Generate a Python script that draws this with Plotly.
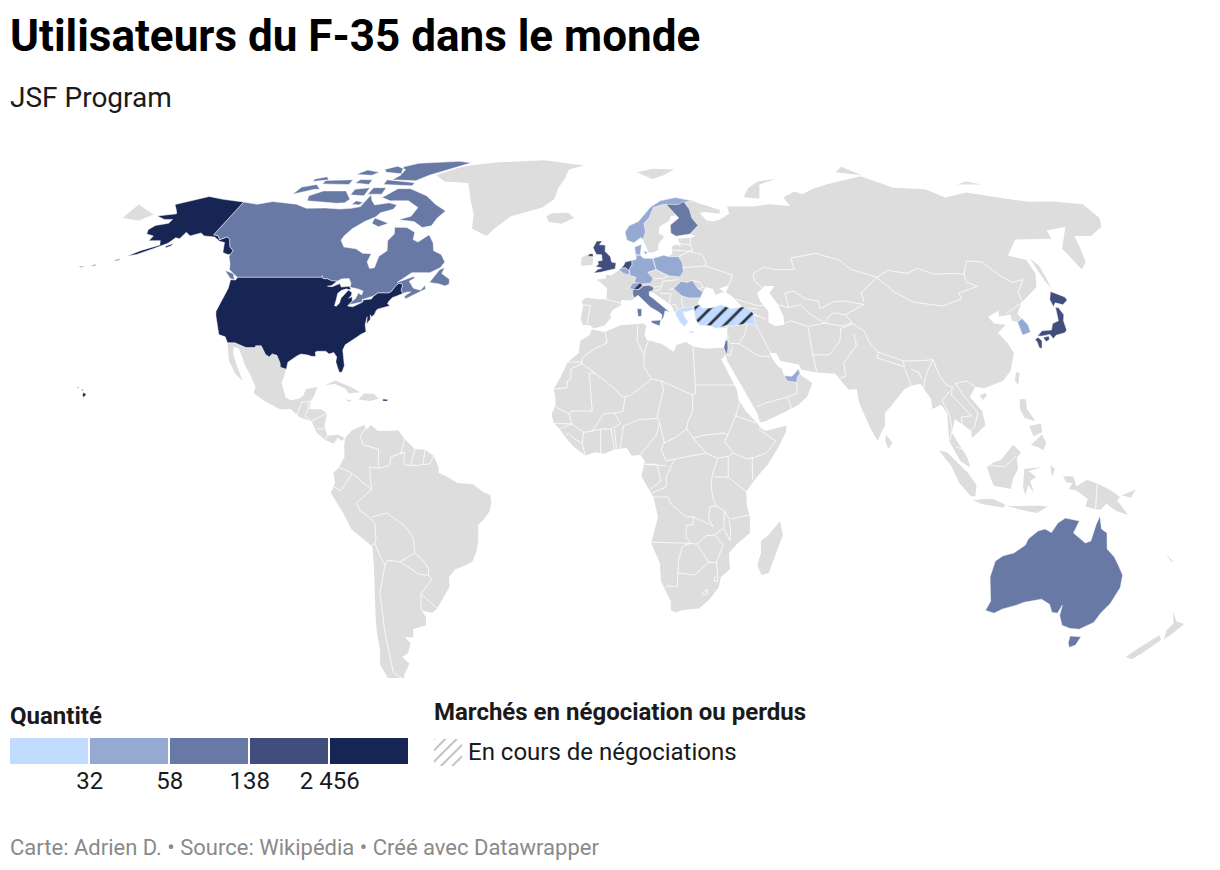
import numpy as np
import plotly.graph_objects as go

# --- grey land ---
eurasia = [(-5.4,36.1),(-6.5,36.9),(-8.9,37),(-9.5,38.7),(-8.8,41.5),(-9.3,43),(-8,43.8),(-4,43.4),(-1.5,43.4),(-1.2,45),(-1.2,46),(-3,47.4),(-4.7,48.4),(-1.5,48.7),(-1.8,49.7),(0.2,49.5),(1.5,50.2),(3,51.1),(4.2,52),(4.8,53),(7,53.4),(8.5,53.7),(8.3,55.5),(8.2,57),(10.6,57.7),(10.3,56),(10,54.8),(11,54),(14,54),(18,54.8),(19.6,54.4),(21,55.2),(21,57),(22.5,57.7),(24.3,57.2),(23.5,59.2),(28,59.5),(30,60),(28,60.5),(23,59.9),(21.3,60.8),(21.5,63),(25,65),(24,65.8),(22,65.5),(21.3,64.2),(17.5,62.5),(17,60.7),(18.8,59.8),(16.5,57.8),(16.3,56.2),(14.3,55.5),(12.9,55.5),(11.3,58.8),(10.5,59.5),(8,58.1),(5.6,58.8),(5,61),(6.5,62.8),(10,64),(12.5,66),(15,68.2),(19,70),(25,71),(31,70.2),(33,69.4),(41,67.3),(40.3,66.2),(35,66.7),(33,66.5),(35,64.3),(37.5,64),(40,64.6),(44,66.2),(44,68.3),(54,68.3),(60,69),(68,68.5),(67,71),(72.5,72.8),(75,72),(80,73.5),(87,75),(104,77.7),(113,74),(125,73.5),(130,71),(140,72.5),(160,69.7),(170,69.8),(180,69),(180,65),(177,62.5),(170,60),(164,60),(162,56.5),(160,53),(156.7,51),(155.7,56.5),(161,60.5),(164,62.5),(156,61.5),(155,59.2),(142,59),(135.3,54.7),(140.5,53.5),(140.4,50),(138,46.5),(132,43.2),(130.5,42.5),(127.5,39.7),(129.4,37),(129.3,35.2),(126.5,34.4),(126.5,37.7),(125,38),(125.2,39.6),(121.5,39),(122,40.5),(118,39),(119,37.3),(122.5,37),(119.2,35),(121,32.5),(122,30),(119.5,25.5),(116.5,23),(110.5,21.2),(108,21.6),(105.8,19),(108.8,15.5),(109.3,12),(105,8.7),(105,10.5),(102,12.5),(100.5,13.5),(99.3,10),(103.3,4),(104.2,1.4),(101.3,3),(98.3,8),(98.5,15),(97,17),(94.3,16),(94.3,18.5),(91.8,22.3),(89,21.8),(86.9,21),(82.2,16.7),(80.2,15),(80,12),(77.5,8.1),(75.5,11.5),(73,17.5),(72.7,21),(70.4,20.8),(69,22.3),(67,24.8),(61.5,25.1),(57,25.8),(56.4,27.1),(51,28),(50,30),(48,30),(48.7,28.5),(50,26.7),(51.2,26),(51.5,25),(51.6,24.3),(54,24.2),(56.3,26),(56.6,24.5),(59.8,22.5),(57.8,19),(55,17),(52,15.7),(45,12.9),(43.5,12.7),(42.8,15),(39.2,21),(35,28),(34.7,29.5),(33,28.2),(32.6,30),(32.3,31.2),(34.3,31.3),(35.8,34.5),(35.9,36.3),(32.5,36.1),(30.6,36.8),(27.5,36.8),(26.3,39.4),(29,41),(31.5,41.2),(35,42),(38,41),(41.5,41.5),(39,44),(37,45.2),(38.5,47.1),(35,46.1),(36.5,45.3),(33.5,44.5),(33,46),(30.7,46.5),(28.7,44),(27.5,42.5),(28,41.5),(26.2,40.9),(23.5,40.2),(22.7,40.3),(23,39),(24,37.8),(22.8,36.5),(21.5,37.5),(21,38.5),(19.5,41),(19,42),(15.5,44),(13.7,45),(12.3,45.3),(12.3,44.3),(13.5,43.6),(16,41.8),(18.4,40.2),(17,40.5),(16.5,39),(15.7,38),(16,39.5),(15,40.2),(12.5,41.4),(10.5,43),(8.7,44.4),(6.5,43.1),(3.2,43.2),(3.2,41.9),(0.5,40.7),(-0.3,39.5),(0,38.7),(-2,36.8)]
africa = [(-6,35.8),(-2,35.2),(3,36.9),(10,37.3),(11,36.9),(10.3,34.5),(11,33.2),(15.3,32.3),(19,30.3),(20,32),(23,32.7),(25,31.6),(29,31),(32.3,31.2),(32.5,29.9),(34,26.7),(35.5,24),(37.2,21),(37.5,18.5),(39.5,15.5),(43,12.2),(43.3,11.5),(45,10.5),(51.2,11.9),(51,10.4),(49,7),(45.5,2.2),(41.5,-1.9),(39.2,-4.7),(39.5,-8),(40.5,-11),(40.7,-15),(37,-17.8),(34.8,-20),(35.5,-24),(32.9,-26),(32.5,-28.5),(30,-31.5),(27,-33.8),(22,-34.2),(20,-34.8),(18.4,-34.2),(18.2,-32),(15,-27),(14.5,-22.5),(11.8,-17.5),(13.7,-11),(12.3,-6),(8.8,-0.8),(9.8,3),(8.5,4.5),(6,4.3),(4.5,6.3),(1,5.9),(-2,4.8),(-4.5,5.2),(-7.5,4.4),(-11,6.7),(-13.3,9),(-15,11),(-16.7,12.5),(-17.4,14.7),(-16.3,17),(-16.5,19.5),(-17,21),(-15,24),(-13,27.7),(-9.8,30),(-9.4,33),(-6.5,34.5)]
south_america = [(-77.4,8.7),(-75.5,10.7),(-72,12),(-71.3,11),(-71.5,10.7),(-70,12),(-68,10.6),(-64,10.5),(-62,10.7),(-60,8.5),(-57,6),(-54,5.8),(-51.5,4.3),(-50,1.5),(-50,0),(-48,-0.7),(-44.5,-2.5),(-40,-2.8),(-37,-4.8),(-35,-5.5),(-34.8,-7.5),(-35.3,-9.5),(-37,-11.5),(-38.8,-13),(-39,-17),(-39.7,-19.5),(-41,-22),(-43,-23),(-46.5,-24.1),(-48.5,-26),(-48.7,-28.5),(-52,-32.5),(-53.5,-34),(-55,-34.9),(-57.5,-34.5),(-58.3,-34),(-57.2,-36),(-57.6,-38),(-62,-39),(-62.3,-41),(-65,-41),(-63.7,-42.5),(-65.3,-45),(-67.5,-46),(-65.8,-47.7),(-69,-51),(-68.3,-52.4),(-65.2,-54.8),(-69,-55.5),(-74,-53),(-75.5,-48),(-74,-44),(-73.5,-40),(-73,-37),(-71.5,-30),(-70.5,-23),(-70.3,-18.4),(-76,-14),(-78,-10),(-81.3,-5),(-80,-2.5),(-80.5,0),(-78.8,1.5),(-77.3,4),(-77.5,7)]
mexico_central = [(-117.1,32.53),(-114.8,32.5),(-111.05,31.33),(-108.2,31.33),(-108.2,31.78),(-106.5,31.75),(-104.5,29.6),(-103.2,29),(-102.5,29.75),(-101,29.4),(-99.5,27.5),(-99.1,26.4),(-97.2,25.95),(-97.8,22.5),(-96,19),(-94.5,18.2),(-92,18.6),(-90.7,19.5),(-90.3,21),(-87,21.5),(-87.5,19.5),(-88.3,18),(-88.5,16),(-85,15.9),(-83.2,15),(-83.6,11.5),(-82.5,9.3),(-79.5,9.6),(-77.4,8.7),(-78.4,8),(-79.5,8.9),(-80.5,7.3),(-83,8.2),(-85.7,10),(-87.5,13),(-91,13.9),(-94,16),(-97,15.9),(-102,18),(-105.6,20),(-105.3,21.5),(-108,25),(-109.5,26.5),(-113,31),(-114.7,31.5),(-114.5,30),(-112,26.5),(-109.5,23),(-112,24.7),(-115,28)]
greenland = [(-73,78),(-68,76),(-58,75.5),(-54,70),(-51,66),(-50,62),(-44,60),(-42,62),(-37,65.5),(-26,68),(-22,70.5),(-21,74),(-19,77),(-18,80),(-12,81.5),(-30,83.5),(-50,82.7),(-62,81.5),(-66,80.5)]
iceland = [(-24,65.5),(-22,66.4),(-16,66.5),(-13.6,65),(-18,63.4),(-22.7,63.9)]
ireland = [(-10,52),(-6.3,52.2),(-6,53.5),(-6.2,54.1),(-8,54.5),(-7.3,55.2),(-10,54.2)]
madagascar = [(49.3,-12),(50.4,-15.5),(49.5,-18),(47.1,-25),(45,-25.5),(43.5,-23),(44.3,-20),(44,-17),(46,-15.7),(48,-13.5)]
chukotka = [(-180,68.9),(-175,67.5),(-170,66),(-173,64.3),(-180,65)]
novaya_zemlya = [(52,71),(55,70.8),(57.5,70.7),(60,75),(68,76.8),(60,76),(55,74),(52,71.5)]
svalbard = [(11,79),(17,76.8),(22,78),(27,80),(18,80.3)]
severnaya = [(95,79),(105,78),(100,81)]
new_siberia = [(140,75),(150,75),(145,76)]
sakhalin = [(142,54),(143.3,52),(143,49),(142.5,46),(142,48),(142,51)]
cuba = [(-84.9,21.9),(-82,23.1),(-77,21.5),(-74.2,20.2),(-77.5,19.9),(-78.5,21),(-82,22.3)]
hispaniola = [(-74.4,18.4),(-73,19.9),(-70,19.8),(-68.4,18.6),(-71,18),(-72.5,18.2)]
jamaica = [(-78.3,18.4),(-76.3,18.2),(-77,17.8)]
sri_lanka = [(80,9.7),(81.8,7.5),(80.5,6),(79.8,8)]
hainan = [(108.7,19.3),(110.5,20),(111,19.6),(109.5,18.2)]
taiwan = [(121,25.2),(122,25),(120.8,22),(120.1,23)]
luzon = [(120.4,18.5),(122.2,18.4),(122,16),(124,13),(121,13.8),(120,16)]
visayas = [(122,11.8),(125.5,12.4),(125.6,10.2),(123,9.2)]
mindanao = [(122,7),(125.5,9.7),(126.5,7.5),(125.5,5.7),(124,6.5)]
borneo = [(109,1.5),(111,2.7),(113,3.2),(116.8,7),(119,5.2),(117.7,3.7),(118,1),(116.5,-1.5),(116,-4),(111,-3.2),(110,-1.2)]
sumatra = [(95.3,5.6),(97.5,5.2),(103.5,0),(106,-3),(105.8,-5.8),(104.5,-5.8),(101,-2.5),(98.7,1.7)]
java = [(105.2,-6.8),(108.5,-6.5),(111,-6.5),(114.5,-7.8),(114.3,-8.7),(108,-7.8)]
sunda = [(115,-8.3),(119,-8.3),(125,-8.2),(127,-8.4),(124,-10),(120,-9.3)]
sulawesi = [(119.8,1),(125,1.5),(121,0.5),(123.3,-1),(121.5,-2),(122.8,-5),(121,-3),(120.3,-5.5),(119.5,-3.5),(119.8,0)]
new_guinea = [(131,-0.8),(134,-0.8),(135,-3.3),(138,-1.7),(141,-2.6),(145,-4.3),(147.8,-6),(147,-6.8),(150.7,-10.5),(147,-9.5),(144,-7.7),(142.5,-9.2),(141,-9.1),(138,-8.4),(138.5,-6.5),(135,-4.4),(132.8,-4),(133.8,-2.5),(132,-2.3)]
halmahera = [(127.5,2),(128.7,1),(128,-0.8),(127.5,0.5)]
new_britain = [(148.3,-5.6),(152.2,-4.2),(151,-6.2)]
new_caledonia = [(164,-20.2),(167,-22.3),(166,-22)]
nz_north = [(172.7,-34.5),(175.5,-37),(178.3,-37.7),(177,-39.5),(175,-41.6),(174,-39.3),(175,-37.5)]
nz_south = [(172.7,-40.5),(174.2,-41.7),(171,-45),(169,-46.6),(166.5,-46),(168.5,-44)]
caspian_sea = [(47,45),(50,46.8),(53,46.8),(51,45),(53,42),(54,39),(53.8,37),(51,36.7),(49,37.5),(49.5,40.3),(47.5,43)]

grey_land = [eurasia, africa, south_america, mexico_central, greenland, iceland, ireland, madagascar, chukotka, novaya_zemlya, svalbard, severnaya, new_siberia, sakhalin, cuba, hispaniola, jamaica, sri_lanka, hainan, taiwan, luzon, visayas, mindanao, borneo, sumatra, java, sunda, sulawesi, new_guinea, halmahera, new_britain, new_caledonia, nz_north, nz_south]

# --- white borders between grey countries ---
borders = [
    [(-1.7,35),(-1.2,32.5),(-5,31),(-8.7,28.7),(-8.7,27.3)],[(-13,27.7),(-8.7,27.7)],[(-8.7,27.3),(-4.8,25),(1.2,21),(3.3,19),(4.2,19.1),(5.8,19.4),(12,23.5)],
    [(-17,21),(-13,21.3),(-13,23),(-12,23.4),(-12,26),(-8.7,27.3)],[(-4.8,25),(-6.5,25),(-5.5,15.5),(-11.5,15.5),(-12.2,14.8),(-16.3,16.5)],
    [(8.3,36.9),(8,33),(9.5,30.2),(10,30),(9.9,26.5),(12,23.5)],[(11.5,33.1),(10,30)],[(25,31.6),(25,20)],[(25,22),(36.9,22)],[(12,23.5),(15,23),(24,19.5),(25,20)],
    [(24,19.5),(24,15.5),(22.5,13),(22,11)],[(15,23),(15.5,20.9),(13.5,14),(14.2,12.5)],[(3.6,11.7),(8,13.3),(13.5,13.7)],[(3.6,11.7),(2.7,6.3)],[(14.2,12.5),(13.2,9.5),(8.5,4.6)],
    [(4.2,19.1),(3.5,15.4),(1,15)],[(-5.5,10.5),(-3,11),(0,11),(2.8,12.4),(1,15),(-2,14.9),(-5.5,10.5)],[(-3,11),(-3,5)],[(0,11),(1,6)],[(1,11),(1.6,6.2)],
    [(-7.5,4.4),(-8.4,7.5),(-8,10.2),(-5.5,10.5)],[(-13.3,9.2),(-12.5,10),(-10.5,8.5),(-8.4,7.5)],[(-15,11),(-11.5,12.3),(-8,10.2)],[(-16.7,12.4),(-11.5,12.3),(-12.2,14.8)],
    [(22,11),(24,8.7),(27.5,5),(31,3.7),(34,4.2),(35.5,5)],[(24,8.7),(27,9.5),(33,10),(34,9.5),(33,7.8),(35.5,5)],[(36.5,14.3),(34,9.5)],[(38,18),(36.5,14.3),(42.5,12.5)],
    [(43,11),(48,8),(45,5),(42,4),(39.5,3.5),(35.5,5)],[(41,-1.7),(41,3.9)],[(34,4.2),(34,-1)],[(30,-1),(34,-1),(39.2,-4.7)],
    [(31,3.7),(29.5,0),(29,-2.5),(29.5,-6),(30.5,-8.2),(28.8,-8.5),(28.5,-11.5),(29.8,-13.3),(24,-11)],[(14.5,6),(16,3),(18.5,3.5),(27.5,5)],[(14.5,6),(15.5,7.5),(19,9),(22,11)],[(14.2,12.5),(15.5,7.5)],
    [(18.5,3.5),(16,-1),(16,-3.5),(12,-5)],[(9.8,2.2),(13.3,2.2),(14.5,-2),(11.5,-4)],[(9.8,2.2),(16,1.8)],
    [(12.3,-6),(16.5,-6),(17.7,-8),(22,-11),(24,-11),(24,-13),(22,-13),(22,-16),(23.4,-17.6),(11.8,-17.3)],[(23.4,-17.6),(25.3,-17.8),(28,-15.7),(30.4,-15.5),(33,-13.7),(33,-9.5),(30.5,-8.2)],
    [(23.4,-17.6),(21,-18.3),(20,-22),(20,-28.4),(17,-28.2),(16.5,-28.5)],[(20,-25),(25,-25.5),(29,-22.3)],[(25.3,-17.8),(29,-22.3),(31.3,-22.4),(33,-18),(30.4,-15.5)],[(32,-26),(31.3,-22.4)],
    [(35,-11.5),(40.5,-10.5)],[(33,-9.5),(34.5,-11.5),(35,-14.5),(35,-17),(33,-14)],[(27.5,-30),(29,-29),(29.3,-30),(28,-30.6),(27.5,-30)],[(31,-26),(32,-26),(32,-27.2),(31,-27),(31,-26)],
    [(-71.3,11.8),(-73,9),(-72,7),(-67.5,6),(-67.5,2),(-66.9,1.2)],[(-66.9,1.2),(-70,1.5),(-69.5,-4.2)],[(-69.5,-4.2),(-75,-0.1)],[(-75,-0.1),(-78.8,1.4)],[(-75,-0.1),(-78.5,-4.5),(-80.3,-3.4)],
    [(-69.5,-4.2),(-74,-7.5),(-73,-9.5),(-70.5,-11)],[(-70.5,-11),(-69,-12.5),(-69,-16.5),(-69.5,-17.5),(-70.4,-18.3)],[(-69.5,-11),(-65.3,-10),(-60,-13.5),(-58,-16.3),(-58,-20)],
    [(-58,-20),(-62.6,-22.2),(-57.5,-25.3),(-54.6,-25.6),(-54.3,-24),(-55.5,-22),(-58,-20)],[(-62.6,-22.2),(-66.2,-21.8),(-67.2,-23)],[(-69.5,-17.5),(-68.2,-21),(-67.2,-23)],[(-67.2,-23),(-70,-30),(-71,-40),(-72,-50),(-68.6,-52.3)],[(-68.6,-52.7),(-68.6,-55)],
    [(-58.3,-34),(-57.6,-30.2),(-53.4,-33.7)],[(-57.6,-30.2),(-53.7,-26.5),(-54.6,-25.6)],[(-60,8.5),(-61,5),(-60,5.2),(-64,4),(-64,2),(-66.9,1.2)],[(-57,6),(-58,2)],[(-54,5.8),(-54.5,2.3)],[(-60,5.2),(-60,2),(-56.5,1.9),(-52.5,2.3),(-51.5,4.3)],
    [(-92,14.5),(-91,17.8),(-89,17.8),(-88.3,18)],[(-89,17.8),(-88.9,15.9),(-89.5,14.2),(-87.8,13.4)],[(-83.2,15),(-86.7,13.3),(-87.5,13)],[(-83.7,11),(-85.7,11.1)],[(-82.7,9.5),(-83,8.2)],[(-77.4,8.7),(-77.9,7.2)],
    [(-1.8,43.4),(3.2,42.4)],[(-8.9,42),(-6.5,41.8),(-7,39.5),(-7.4,37.2)],[(12.2,50.3),(15,51),(19,49.4)],[(13.8,48.7),(17,48.7),(19,49.4)],[(17,48),(16.5,46.8),(13.7,46.5)],[(17,48),(22.2,48.4)],
    [(13.7,45.5),(15.5,45.7),(16.5,46.5)],[(18.8,45.9),(20.3,46.1)],[(22.7,44.3),(22.5,42.5),(22.9,41.3)],[(15.8,45),(19.3,44.8),(18.5,42.5)],[(19.4,42.2),(20.5,42),(21,40.8)],
    [(23,54.4),(27,55.8),(31,55),(32,53),(31.5,52),(24,51.5)],[(31.5,52),(35,51),(40,49.6),(38.5,47.1)],[(26.6,48.2),(29,47.8),(30,46.5),(28.2,46)],[(21,56.2),(27,55.8),(28.2,56.2)],[(22.5,57.7),(24.3,57.9),(27.5,57.5)],[(28,59.5),(27.5,57.5),(28.2,56.2)],
    [(49,46.4),(47,48),(47,50),(51,51.6),(55,51),(61,51),(61,54),(70,55.3),(77,53.5),(80,51),(87.5,49)],[(87.5,49),(92,50.8),(98,50),(102,51.3),(107,49.8),(113,50),(116.7,49.8)],[(87.5,49),(91,45.5),(96,42.7),(105,41.7),(112,43.5),(112,45),(119,46.7),(116,47.8),(116.7,49.8)],
    [(116.7,49.8),(120,53.3),(125,53),(128,49.7),(131,47.7),(135,48.4),(131,45),(131,43),(130.5,42.5)],[(130.5,42.5),(128,41.5),(124.3,39.9)],[(126.5,37.7),(128.4,38.6)],[(80.5,42.8),(80.5,45),(87.5,49)],
    [(80.2,42.1),(73.5,39.5),(70,40)],[(70.5,42.7),(74,43),(80.2,42.1)],[(53,42),(56,41.3),(56,45),(59,45.5),(62,43.5),(66,43),(66,41),(70.5,42.7)],[(53.8,37.3),(56,38),(61,36.6),(64.5,37),(66.5,37.4)],[(56,41.3),(60,42),(62,40),(66.5,37.4)],
    [(66.5,37.4),(68,39),(70,40)],[(73.5,39.5),(75,37.4),(71.5,36.7),(66.5,37.4)],[(74.9,37.2),(71,36),(70,33),(66,29.5),(61,29.5),(61.5,25.1)],[(61,36.6),(61,31.5),(61,29.5)],
    [(44.8,37.2),(46,35),(47.8,31),(48.5,30)],[(42.3,37.2),(41,34.5),(39,32.3)],[(48,29),(46.5,29.2),(44.7,29.2),(39,32.3)],[(39,32.3),(36.5,32.3),(35.7,33.2)],[(37,31.5),(36,29.3),(35,29.5)],[(36,34.6),(35.7,33.2)],
    [(42.8,16.5),(45,17.4),(52,19),(55,20)],[(52,19),(53,16)],[(55,20),(55.2,22.7)],[(39.9,43.4),(46.5,41.8),(48.6,41.8)],[(43.5,41.1),(46.5,41)],[(46,39),(44.8,39.7)],[(44.8,39.7),(48.5,38.4)],
    [(74.7,34.7),(74.8,32),(70,27.5),(70,24.2),(68.2,23.7)],[(75,37.4),(78,35.5),(79,32.5),(81,30.2),(88,28),(92,28),(97,28.3)],[(81,30.2),(80.2,28.8),(88,26.5),(88,27.9)],[(88,26),(89,22)],[(92.5,23.5),(92,25),(89.8,26)],[(97,28.3),(95,26),(93.5,23.5),(92.3,21)],
    [(97,28.3),(98,24.2),(99.5,22),(101.5,21.3)],[(102.2,22.4),(105.8,23),(108,21.6)],[(102.2,22.4),(104,19.5),(107.5,15),(106,11.5),(104.5,10.5)],[(101,21.3),(100.5,19.5),(105.5,14.3)],[(105.5,14.3),(102.5,14),(102.5,12)],[(100,20.4),(97.5,18),(99,15),(99.5,11),(98.5,8)],[(100.2,6.5),(102,6)],
    [(141,-2.6),(141,-9.1)],[(109.6,2),(114,1.5),(117.5,4.2)],
]

# --- countries with F-35, grouped by legend bin ---
usa = [(-124.7,48.4),(-123,48.3),(-122.8,49),(-95.15,49),(-95.15,49.4),(-94.6,48.7),(-93,48.6),(-91.4,48.1),(-89.6,48),(-90.8,46.9),(-92.1,46.7),(-90.5,46.6),(-88.4,47.4),(-87.5,46.5),(-85,46.7),(-84.6,46.45),(-84.1,46),(-84.7,45.8),(-85.5,46.05),(-87,45.7),(-87.9,44.9),(-87.7,43.5),(-87.6,41.8),(-87,41.65),(-86.3,42.4),(-86.3,43.7),(-85.5,45),(-84.8,45.75),(-83.4,45.1),(-83.3,44.3),(-83.9,43.7),(-82.9,44.05),(-82.45,43),(-83.1,42.2),(-83.4,41.7),(-81.7,41.5),(-79,42.7),(-79.05,43.25),(-76.5,43.5),(-76.2,44.1),(-75,45),(-71.5,45),(-70.8,45.4),(-70,46.7),(-69.2,47.45),(-68.3,47.35),(-67.8,47.05),(-67.8,45.7),(-67,44.85),(-68.5,44.3),(-70,43.8),(-70.7,43),(-71,42.3),(-70,41.8),(-71.4,41.45),(-73.7,40.9),(-74,40.5),(-74.2,39.6),(-75,38.95),(-75.5,39.5),(-75.1,38.4),(-75.9,37.2),(-76.3,39),(-76.3,37),(-75.5,35.25),(-77,34.6),(-78,33.9),(-79.3,33.1),(-81,32),(-81.4,30.7),(-80.5,28.4),(-80,26.8),(-80.4,25.2),(-81.2,25.2),(-81.8,26.1),(-82.8,27.8),(-82.8,29),(-84,30.1),(-85.3,29.7),(-86.5,30.4),(-89,30.4),(-89.6,30.2),(-89.2,29.1),(-90.5,29.15),(-91.8,29.5),(-93.8,29.7),(-94.8,29.3),(-97.2,27.7),(-97.2,25.95),(-99.1,26.4),(-99.5,27.5),(-101,29.4),(-102.5,29.75),(-103.2,29),(-104.5,29.6),(-106.5,31.75),(-108.2,31.78),(-108.2,31.33),(-111.05,31.33),(-114.8,32.5),(-117.1,32.53),(-118.4,34),(-120.6,34.55),(-121.9,36.6),(-122.5,37.7),(-123.8,39.3),(-124.35,40.4),(-124.2,42),(-124.1,44),(-123.95,46.2)]
alaska = [(-141,69.65),(-145,70),(-150,70.45),(-156.6,71.3),(-161,70.3),(-166.2,68.9),(-163,67.1),(-161.7,66.2),(-168,65.6),(-164,64.6),(-161,64.6),(-161,63.5),(-165,62.9),(-166,61.7),(-165,60.5),(-162,60),(-162,58.7),(-158,58.7),(-156.8,57.5),(-161.8,56),(-164.8,54.6),(-162,55),(-158,56.5),(-154.5,58),(-153.5,59.5),(-151.8,59.2),(-151.5,61),(-149,60),(-146,60.8),(-144,60),(-140,59.7),(-137,58.5),(-135,58.2),(-133,55.5),(-131,55),(-130,55),(-130,56),(-132,57),(-134,59),(-135.5,59.7),(-137.5,58.9),(-139,60),(-141,60.3)]
kodiak = [(-154.5,57.2),(-152.4,58),(-152.8,57.2),(-154,56.8)]
aleutian_1 = [(-168.2,53.3),(-166.2,53.9),(-166.6,53.4)]
aleutian_2 = [(-174.5,52.1),(-172.5,52.4),(-173,52)]
aleutian_3 = [(-178.3,51.8),(-176,51.9),(-177,51.6)]
hawaii_big = [(-155.9,20.2),(-154.9,19.6),(-155.6,18.9),(-156,19.6)]
hawaii_maui = [(-156.7,20.9),(-156,20.8),(-156.4,20.5)]
hawaii_oahu = [(-158.2,21.5),(-157.7,21.6),(-157.8,21.2)]
puerto_rico = [(-67.2,18.5),(-65.7,18.4),(-65.8,18),(-67.2,18)]

canada = [(-141,69.65),(-135,69),(-130,69.8),(-125,69.5),(-120,69),(-115,67.8),(-110,67.8),(-108,67.9),(-102,67.6),(-98,67.8),(-95,68.3),(-94,71.8),(-92,70),(-90,68.8),(-85,69.4),(-81.5,68.8),(-82,67.5),(-86,66.5),(-87,65.3),(-90,64),(-93,62),(-94.5,60),(-94.7,58.8),(-92.5,57),(-88,56.5),(-85,55.3),(-82,55.2),(-82.2,53),(-80.5,51.3),(-79,51.5),(-79,54.5),(-77,56),(-78.3,58.7),(-77,60.5),(-78,62.4),(-73.5,62.3),(-70,61),(-69.5,59),(-67.5,58.3),(-65.5,59.5),(-64.5,60.3),(-62,58),(-61,56),(-58,55),(-56,53),(-57,51.5),(-60,50.2),(-66,50.2),(-69.8,47.7),(-65,49.2),(-64.5,48.8),(-66,48),(-64.8,47),(-64,46.2),(-61.5,45.7),(-60.5,47),(-60,46),(-63.5,44.6),(-65.7,43.5),(-66.2,44.2),(-64.5,45.3),(-66,45.2),(-67,44.85),(-67.8,45.7),(-67.8,47.05),(-68.3,47.35),(-69.2,47.45),(-70,46.7),(-70.8,45.4),(-71.5,45),(-75,45),(-76.3,44.2),(-79.5,43.3),(-79,42.8),(-83,42),(-82.45,43),(-81.7,43.5),(-81.3,45),(-80,44.5),(-80,45.5),(-81.8,46),(-84.6,46.45),(-84.8,47.5),(-86,48.7),(-88.4,48.6),(-89.6,48),(-91.4,48.1),(-93,48.6),(-94.6,48.7),(-95.15,49.4),(-95.15,49),(-122.8,49),(-124,49.5),(-127,51),(-128,52.5),(-130,54.5),(-130,56),(-132,57),(-134,59),(-135.5,59.7),(-137.5,58.9),(-139,60),(-141,60.3)]
vancouver = [(-128.3,50.8),(-125,50),(-123.4,48.4),(-125,48.7)]
newfoundland = [(-59.3,47.7),(-57,51),(-55.5,51.5),(-56,50),(-53,48.5),(-52.7,47.2),(-54,46.8),(-56,47.3)]
baffin = [(-80,73.7),(-72,71.5),(-67,69),(-62,67),(-64,65),(-65,62.8),(-68,62.3),(-72,64),(-78,64.5),(-74,65.5),(-73,68),(-78,70),(-85,70),(-89,71),(-85,73.7)]
victoria = [(-117,70),(-105,69.3),(-102,69.4),(-101,70.5),(-105,73),(-114,73),(-118,71.5)]
banks = [(-125,72),(-118,73.5),(-116,73.5),(-119,75),(-124,74.2)]
ellesmere = [(-90,76.5),(-80,76.2),(-76,78),(-70,80),(-62,82.5),(-68,83.1),(-85,82.3),(-90,81),(-88,78)]
devon = [(-92,75),(-80,74.6),(-80,75.6),(-92,76.5)]
prince_wales = [(-102,71.8),(-96.5,71.5),(-96.5,74),(-102,73.5)]
somerset = [(-95.5,72),(-90,72),(-90,74),(-95,74)]
melville = [(-117,75.2),(-106,75),(-106,76.5),(-117,76.3)]
bathurst = [(-104,75.5),(-98,75),(-98,76.5),(-103,76.6)]
prince_patrick = [(-122,76),(-116,76.5),(-118,77.5),(-122,76.8)]
king_william = [(-99,69),(-96,68.8),(-95,69.5),(-98,70)]
ringnes = [(-107,78.3),(-100,78),(-98,79),(-104,79.8)]
axel_heiberg = [(-97,80),(-93,81.2),(-88,80),(-88,78.5),(-95,79)]
southampton = [(-87,65),(-81,63.5),(-84,62.5),(-87,63.5)]
australia = [(114,-22),(116,-20.7),(119,-20),(122,-18),(122.5,-16.5),(125,-14.5),(127,-14),(129,-14.9),(130.5,-12.5),(132.5,-11.3),(136.7,-12),(136,-13.5),(135.5,-15),(139.5,-17.5),(141,-17),(141.7,-13),(142.5,-10.8),(143.5,-14),(145.3,-15),(146.3,-19),(149,-21),(150.8,-23),(153,-25.5),(153.6,-28.6),(152.5,-32.5),(150.8,-35),(150,-37.3),(146.5,-39),(143.5,-38.8),(140.5,-38),(138.5,-35.6),(138,-33),(137.5,-35),(135.7,-34.8),(134,-32.8),(131,-31.5),(126,-32.3),(124,-33),(120,-34),(118,-35),(115,-34.3),(115.7,-32),(113.5,-26)]
tasmania = [(144.7,-40.7),(148.3,-40.9),(148,-43),(146.5,-43.6),(145.3,-42.5)]
finland = [(21.3,60.8),(23,59.9),(28,60.5),(31.5,62.9),(29.8,65),(29.5,67.5),(28.5,68.9),(28,69.8),(25.5,68.9),(21,69),(24,66),(25,65),(21.5,63)]
italy = [(7,45.9),(9,45.9),(10.4,46.8),(12.3,47),(13.7,46.5),(13.7,45.7),(12.3,45.3),(12.3,44.3),(13.5,43.6),(16,41.8),(18.4,40.2),(17,40.5),(16.5,39),(15.7,38),(16,39.5),(15,40.2),(12.5,41.4),(10.5,43),(8.7,44.4),(7.5,43.8),(7,44.5)]
sicily = [(12.5,38),(15.5,38.2),(15.1,36.7),(12.6,37.5)]
sardinia = [(8.2,41),(9.7,41),(9.6,39.2),(8.5,39)]
israel = [(34.3,31.3),(35,33),(35.7,33.2),(35.5,31),(35,29.5)]

norway = [(5.6,58.8),(8,58.1),(10.5,59.5),(11.3,59.1),(12.3,61),(12,63.5),(14,65),(16,68),(20,69),(25,68.6),(28,69.5),(31,70),(25,71),(19,70),(15,68.2),(12.5,66),(10,64),(6.5,62.8),(5,61)]
denmark = [(8.3,55.5),(8.2,57),(10.6,57.7),(10.3,56),(10,54.8),(8.6,54.9)]
zealand = [(11,55.7),(12.6,55.8),(12,55)]
germany = [(7,53.4),(8.5,53.7),(8.6,54.9),(10,54.8),(11,54),(14.2,53.9),(14.7,52),(15,51),(12.2,50.3),(13.8,48.7),(13,47.5),(10,47.3),(7.6,47.6),(8.2,49),(6.3,49.5),(6,51),(7,52.3)]
belgium = [(2.6,51),(3.4,51.4),(5,51.5),(5.8,50.8),(6.3,50.4),(5.8,49.6),(4.2,50)]
poland = [(14.2,53.9),(18,54.8),(19.6,54.4),(23,54.4),(24,52.7),(24,50.5),(22.7,49.1),(19,49.4),(15,51),(14.7,52)]
romania = [(20.3,46.1),(22.9,48),(24.9,47.7),(26.6,48.2),(28.2,46),(29.6,45.3),(28.6,43.8),(25,43.7),(22.7,44.3)]
uae = [(51.6,24.3),(54,24.2),(56.1,26),(56.4,24.9),(55.5,24),(55.2,22.7),(52.5,22.95)]
south_korea = [(126.5,37.7),(128.4,38.6),(129.4,37),(129.3,35.2),(126.5,34.4)]

uk = [(-5.7,50.1),(-3.5,50.3),(1.4,51.2),(1.7,52.7),(0.2,53),(-0.2,54.4),(-2,55.8),(-2,57.5),(-4,57.6),(-3.1,58.6),(-5,58.6),(-6.2,56.8),(-5,55),(-3.2,54.9),(-3,53.4),(-4.5,53.2),(-4.2,52.4),(-5.2,51.8),(-3,51.4),(-4.5,51)]
northern_ireland = [(-8,54.5),(-6,54.4),(-6.2,55.2),(-7.3,55.2)]
netherlands = [(3.4,51.4),(4.2,52),(4.8,53),(7,53.4),(7,52.3),(6,51),(5.8,50.8),(5,51.5)]
hokkaido = [(140,41.5),(140,43.3),(141.7,45.4),(145.3,44),(145.5,43.2),(143.3,42),(141.2,42.5)]
honshu = [(131,34.2),(133,35.5),(136,35.7),(137.2,37.3),(139.4,38),(140,40),(140.5,41.3),(141.4,41.3),(142,39.5),(141,38),(140.7,35.7),(139.8,35),(138.5,34.7),(136.8,34.4),(135.5,33.5),(135,34.6),(132.5,34.2)]
shikoku = [(132.5,33.8),(134.5,34.2),(134.2,33.3),(133,32.8)]
kyushu = [(129.8,33.3),(131,33.9),(131.8,33),(131,31.1),(130.2,31.3),(130.2,32.7)]

greece = [(20.2,39.7),(21,40.8),(23,41.3),(26.3,41.5),(26,40.8),(23.5,40.2),(22.7,40.3),(23,39),(24,37.8),(22.8,36.5),(21.5,37.5),(21,38.5)]
crete = [(23.6,35.5),(26.3,35.3),(24.7,34.9)]
turkey = [(26.2,40),(26.3,41.7),(28,42),(29,41.2),(31.5,41.2),(35,42),(38,41),(41.5,41.5),(43.5,41.1),(44.8,39.7),(44.8,37.2),(42.3,37.2),(38,36.8),(36.2,36.6),(35.9,36),(36,36.9),(32.5,36.1),(30.6,36.8),(27.5,36.8),(26.3,38.5)]
switzerland = [(6,46.2),(7,47.5),(9.5,47.6),(10.4,46.8),(9,45.9),(7,45.9)]

bin_colors = ["#c1dcff", "#95a9d3", "#6879a5", "#414d7c", "#172554"]
bin_countries = [
    [greece, crete],
    [norway, denmark, zealand, germany, belgium, poland, romania, uae, south_korea],
    [canada, vancouver, newfoundland, baffin, victoria, banks, ellesmere, devon, prince_wales, somerset, melville, bathurst, prince_patrick, king_william, ringnes, axel_heiberg, southampton, australia, tasmania, finland, italy, sicily, sardinia, israel],
    [uk, northern_ireland, netherlands, hokkaido, honshu, shikoku, kyushu],
    [usa, alaska, kodiak, aleutian_1, aleutian_2, aleutian_3, hawaii_big, hawaii_maui, hawaii_oahu, puerto_rico],
]
# hatched: country outline with the bin colour it sits in
negotiating = [(turkey, bin_colors[0]), (switzerland, bin_colors[1])]

legend_ticks = ["32", "58", "138", "2 456"]
legend_bins = [1, 1, 1, 1, 1]

SCALE = 227  # px per radian, natural earth projection
CENTER_X, EQUATOR_Y = 611, 473  # page pixels

W, H = 1204, 854  # page body has an 8px margin


def natural_earth(points):
    lon = np.radians([p[0] for p in points])
    phi = np.radians([p[1] for p in points])
    p2 = phi ** 2
    p4 = p2 ** 2
    x = lon * (0.8707 - 0.131979 * p2 + p4 * (-0.013791 + p4 * p2 * (0.003971 - 0.001529 * p2)))
    y = phi * (1.007226 + p2 * (0.015085 + p4 * (-0.044475 + 0.028874 * p2 - 0.005916 * p4)))
    return SCALE * x, SCALE * y


def outline(polys, close=True):
    xs, ys = [], []
    for poly in polys:
        x, y = natural_earth(poly)
        xs += list(x) + ([x[0]] if close else []) + [None]
        ys += list(y) + ([y[0]] if close else []) + [None]
    return xs, ys


def px(x):
    return (x - 8) / W


def py(y):
    return 1 - (y - 8) / H


fig = go.Figure()

x, y = outline(grey_land)
fig.add_trace(go.Scatter(x=x, y=y, fill="toself", fillcolor="#dddddd", mode="lines", line=dict(width=0), hoverinfo="skip"))
x, y = outline(borders, close=False)
fig.add_trace(go.Scatter(x=x, y=y, mode="lines", line=dict(color="white", width=0.8), hoverinfo="skip"))
x, y = outline([caspian_sea])
fig.add_trace(go.Scatter(x=x, y=y, fill="toself", fillcolor="white", mode="lines", line=dict(width=0), hoverinfo="skip"))

for color, countries in zip(bin_colors, bin_countries):
    x, y = outline(countries)
    fig.add_trace(go.Scatter(x=x, y=y, fill="toself", fillcolor=color, mode="lines", line=dict(color="white", width=0.5), hoverinfo="skip"))

for country, color in negotiating:
    x, y = outline([country])
    fig.add_trace(go.Scatter(x=x, y=y, fill="toself", mode="lines", line=dict(color="white", width=0.5), hoverinfo="skip",
                             fillpattern=dict(shape="/", bgcolor=color, fgcolor="#2b3240", size=11, solidity=0.25, fillmode="replace")))

# colour legend as bars, ticks sit between them
fig.add_trace(go.Bar(x=[0, 1, 2, 3, 4], y=legend_bins, marker=dict(color=bin_colors, line=dict(width=0)), xaxis="x2", yaxis="y2", hoverinfo="skip"))
fig.add_trace(go.Bar(x=[0], y=[1], width=[1], marker=dict(color="white", line=dict(width=0), pattern=dict(shape="/", fgcolor="#707070", bgcolor="white", size=8, solidity=0.22)), xaxis="x3", yaxis="y3", hoverinfo="skip"))

hidden = dict(visible=False, fixedrange=True)
fig.update_layout(
    width=W, height=H, margin=dict(l=0, r=0, t=0, b=0), showlegend=False,
    paper_bgcolor="white", plot_bgcolor="white", bargap=0.025,
    font=dict(family="Roboto", color="#1a1a1a"),
    xaxis=dict(range=[8 - CENTER_X, 8 + W - CENTER_X], domain=[0, 1], **hidden),
    yaxis=dict(range=[EQUATOR_Y - 678, EQUATOR_Y - 155], domain=[py(678), py(155)], **hidden),
    xaxis2=dict(range=[-0.5, 4.5], domain=[px(9), px(409)], anchor="y2", tickvals=[0.51, 1.51, 2.51, 3.51], ticktext=legend_ticks,
                showgrid=False, zeroline=False, showline=False, ticks="", tickfont=dict(size=24, color="#1a1a1a"), fixedrange=True),
    yaxis2=dict(range=[0, 1], domain=[py(764), py(738)], anchor="x2", **hidden),
    xaxis3=dict(range=[-0.5, 0.5], domain=[px(434), px(462)], anchor="y3", **hidden),
    yaxis3=dict(range=[0, 1], domain=[py(766), py(739)], anchor="x3", **hidden),
)


def label(text, x, y, size, color="#1a1a1a", bold=False):
    if bold:
        text = "<b>" + text + "</b>"
    fig.add_annotation(text=text, x=px(x - 2), y=py(y), xref="paper", yref="paper", showarrow=False,
                       xanchor="left", yanchor="middle", font=dict(size=size, color=color, family="Roboto"))


label("Utilisateurs du F-35 dans le monde", 10, 36, 44, color="#000000", bold=True)
label("JSF Program", 10, 97, 28)
label("Quantité", 10, 716, 24, bold=True)
label("Marchés en négociation ou perdus", 434, 712, 24, bold=True)
label("En cours de négociations", 468, 752, 24)
label("Carte: Adrien D. • Source: Wikipédia • Créé avec Datawrapper", 10, 847, 22, color="#8a8a8a")

fig.write_html("out.html")
